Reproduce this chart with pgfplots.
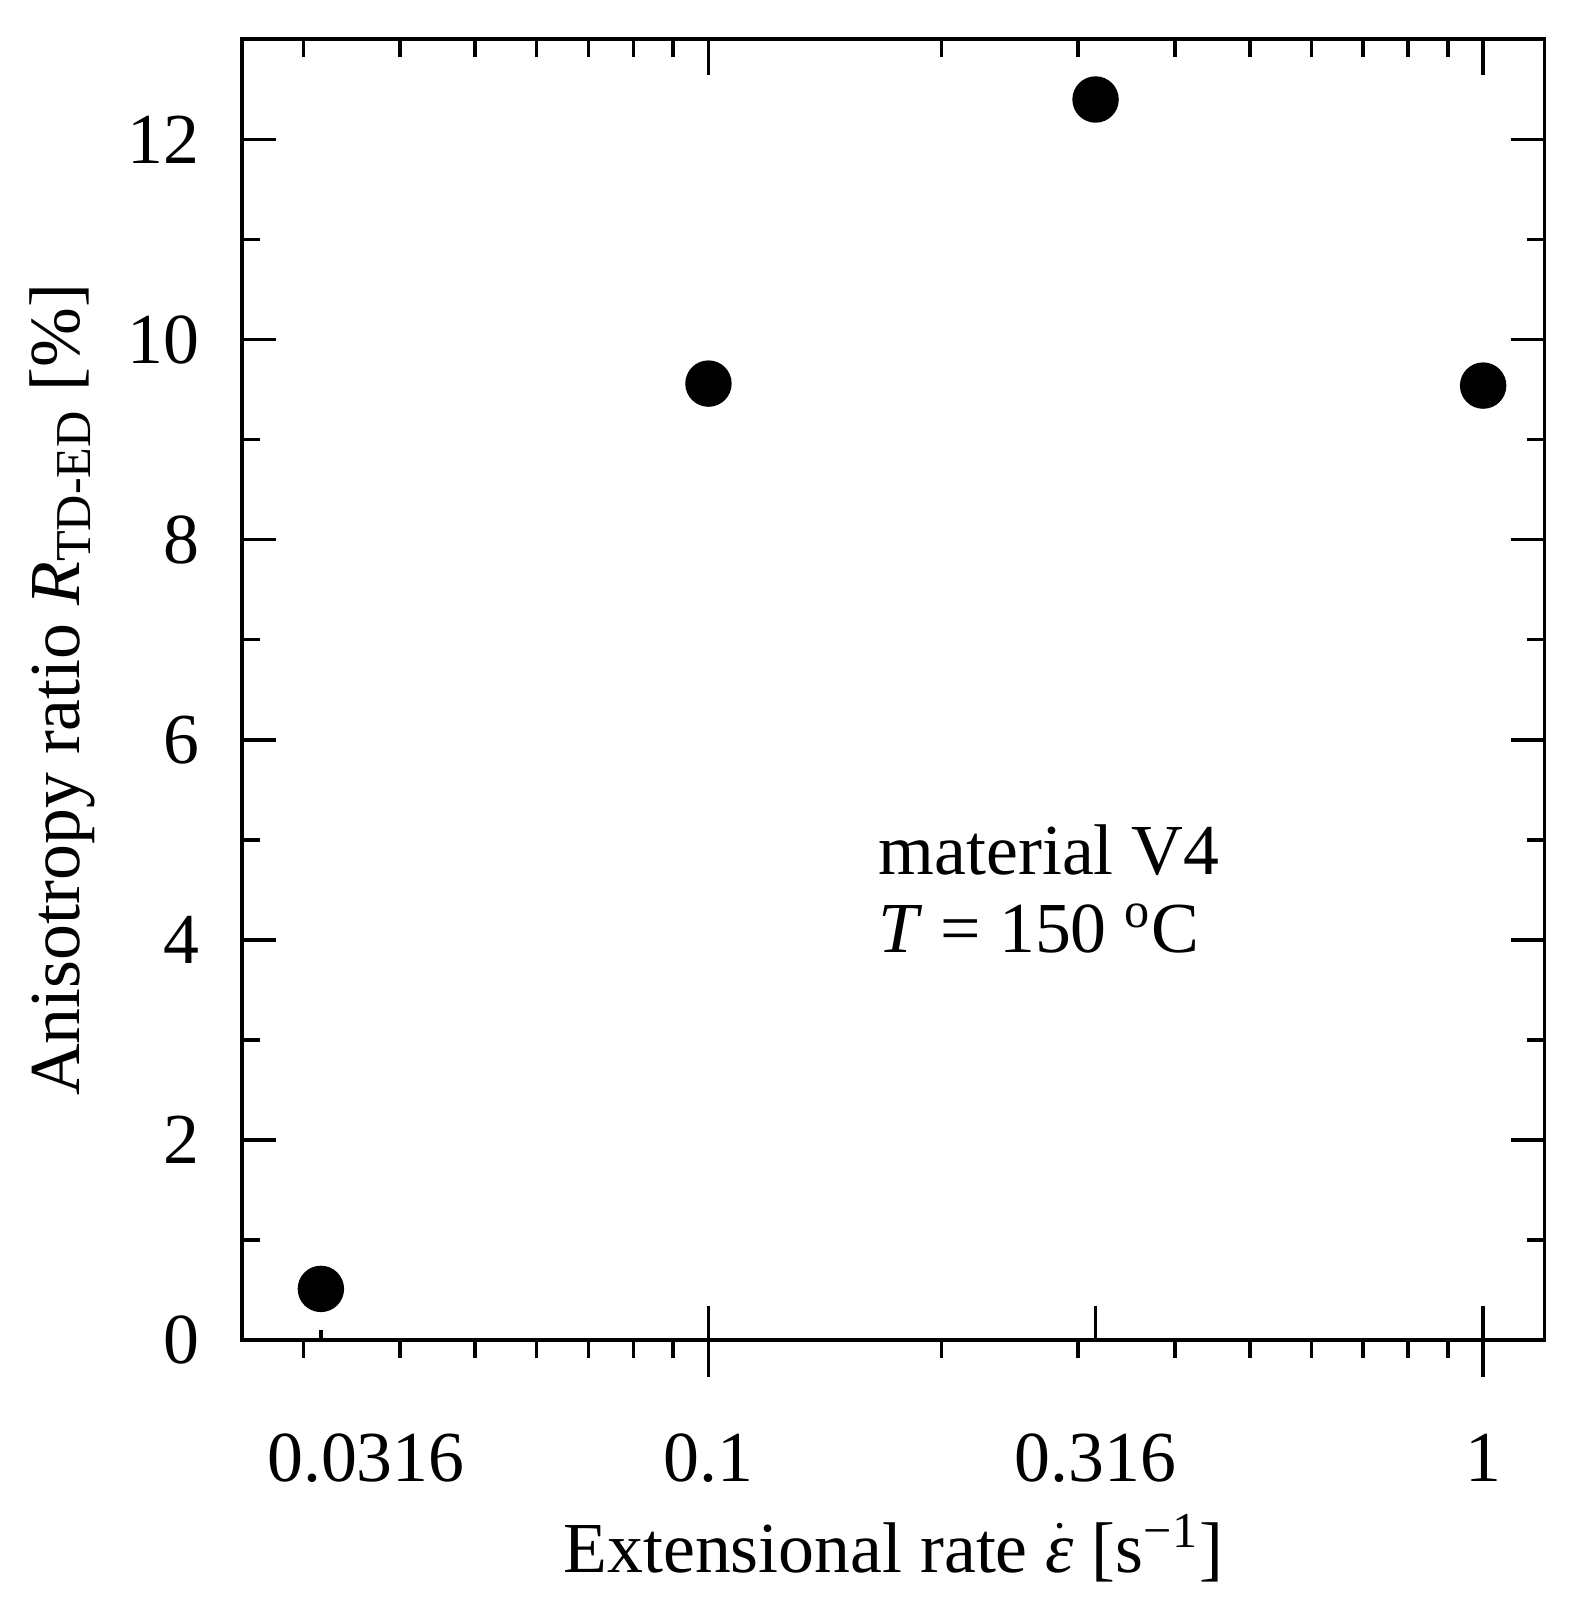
\documentclass[border=0pt]{standalone}
\usepackage{fontspec}
\setmainfont{Liberation Serif}
\usepackage{pgfplots}
\pgfplotsset{compat=1.18}
\pgfplotsset{
  myaxis/.style={
    xmin=0.025, xmax=1.2, ymin=0, ymax=13,
    scale only axis, width=325.5bp, height=325bp,
    axis line style={line width=1pt, black},
    tick style={line width=0.9pt, black},
  }
}
\begin{document}
\begin{tikzpicture}[font=\fontsize{18}{21.6}\selectfont]
\begin{axis}[xmode=log, myaxis,
  xtick={0.1,0.316,1},
  xticklabels={0.1,0.316,1},
  extra x ticks={0.0316},
  extra x tick labels={\hspace*{22.5bp}0.0316},
  extra x tick style={major tick length=2.6bp},
  xtick pos=bottom,
  xminorticks=false,
  ytick={0,2,4,6,8,10,12},
  minor ytick={1,3,5,7,9,11},
  tick align=inside,
  major tick length=8.5bp,
  minor tick length=4.5bp,
  /pgf/number format/assume math mode=true,
  xticklabel style={yshift=-20bp},
  yticklabel style={xshift=-7.25bp},
  xlabel={Extensional rate $\dot{\mbox{\textit{ε}}}$ [s\textsuperscript{−1}]},
  ylabel={Anisotropy ratio \textit{R}\textsubscript{TD-ED} [\%]},
  xlabel style={at={(axis description cs:0.5,-0.179)}, anchor=base},
  ylabel style={at={(axis description cs:-0.1245,0.5)}, anchor=base},
  clip=false,
]
\addplot[only marks, mark=*, mark size=5.6bp, black] coordinates {
  (0.0316,0.51) (0.1,9.56) (0.316,12.40) (1,9.54)
};
\node[anchor=base west] at (rel axis cs:0.478,0.358) {material V4};
\node[anchor=base west] at (rel axis cs:0.478,0.298) {\textit{T} = 150 \textsuperscript{o}C};
\end{axis}
\begin{axis}[xmode=log, myaxis,
  axis x line*=bottom, hide y axis,
  xtick={0.1,1}, xticklabels={},
  minor xtick={0.03,0.04,0.05,0.06,0.07,0.08,0.09,0.2,0.3,0.4,0.5,0.6,0.7,0.8,0.9},
  tick align=outside,
  major tick length=9.25bp, minor tick length=4.5bp,
]
\addplot[draw=none] coordinates {(0.1,1)};
\end{axis}
\begin{axis}[xmode=log, myaxis,
  axis x line*=top, hide y axis,
  xtick={0.1,1}, xticklabels={},
  minor xtick={0.03,0.04,0.05,0.06,0.07,0.08,0.09,0.2,0.3,0.4,0.5,0.6,0.7,0.8,0.9},
  tick align=inside,
  major tick length=9bp, minor tick length=4.5bp,
]
\addplot[draw=none] coordinates {(0.1,1)};
\end{axis}
\path (current axis.south west) ++(-60.5bp,-67bp) rectangle ([shift={(8.75bp,9.875bp)}]current axis.north east);
\end{tikzpicture}
\end{document}
